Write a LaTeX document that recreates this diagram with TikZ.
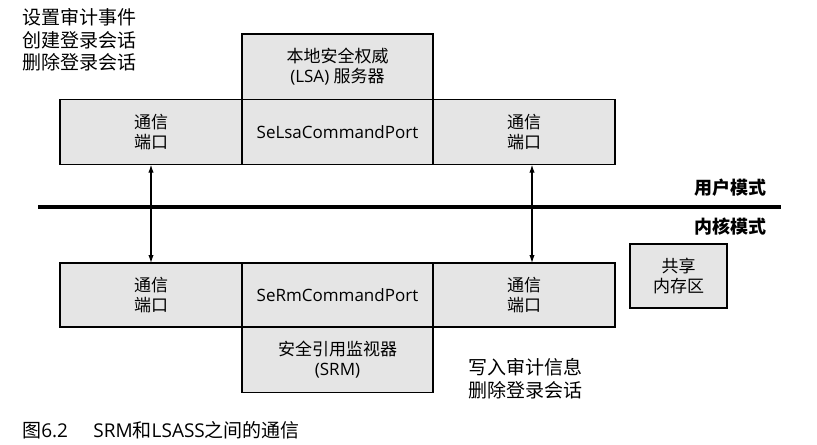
\documentclass[tikz,border=0pt]{standalone}
\usepackage{fontspec}
\setmainfont{Open Sans}
\newfontfamily\cjk{Noto Sans CJK SC}
\usepackage{tikz}
\usetikzlibrary{positioning, arrows.meta}
\definecolor{boxgray}{gray}{0.9}
\tikzstyle{port} = [rectangle, draw, line width=1.1pt, fill=boxgray, inner sep=0pt, outer sep=0pt, minimum width=143.25pt, minimum height=49pt, align=center, font=\fontsize{12.75}{15}\selectfont]
\tikzstyle{comm} = [port, minimum width=136.5pt, font=\fontsize{12.75}{15}\selectfont\cjk]
\tikzstyle{note} = [inner sep=0pt, align=left, font=\fontsize{14.25}{17}\selectfont\cjk]
\tikzstyle{mode} = [inner sep=0pt, anchor=east, font=\fontsize{13.5}{16}\selectfont\cjk\bfseries]
\tikzstyle{line} = [draw, line width=0.8pt, {Latex[length=6pt, width=4pt]}-{Latex[length=6pt, width=4pt]}]
\tikzstyle{border} = [draw, line width=3pt]

\begin{document}
\begin{tikzpicture}[x=0.75pt, y=-0.75pt]
        \useasboundingbox (0,0) rectangle (817,444);
        % Nodes
        \node (selsa) [port] at (337.5,132) {SeLsaCommandPort};
        \node (lsa) [port, above=0pt of selsa] {{\cjk 本地安全权威}\\(LSA) {\cjk 服务器}};
        \node (ucomL) [comm, left=0pt of selsa] {通信\\端口};
        \node (ucomR) [comm, right=0pt of selsa] {通信\\端口};
        \node (serm) [port, minimum height=48pt] at (337.5,295) {SeRmCommandPort};
        \node (srm) [port, below=0pt of serm] {{\cjk 安全引用监视器}\\(SRM)};
        \node (lcomL) [comm, minimum height=48pt, left=0pt of serm] {通信\\端口};
        \node (lcomR) [comm, minimum height=48pt, right=0pt of serm] {通信\\端口};
        \node (shm) [comm, minimum width=72.75pt, minimum height=48pt] at (678.5,276) {共享\\内存区};
        % mode boundary
        \coordinate (bl) at (38,207);
        \coordinate (br) at (781,207);
        \node (user) [mode] at (767,188) {用户模式};
        \node (kernel) [mode] at (767,227) {内核模式};
        % call lists
        \node (lsacalls) [note, anchor=west] at (22,40) {设置审计事件\\创建登录会话\\删除登录会话};
        \node (srmcalls) [note, anchor=west] at (468,379) {写入审计信息\\删除登录会话};
        \node (caption) [anchor=west, inner sep=0pt, font=\fontsize{14.25}{17}\selectfont] at (22,430) {{\cjk 图}6.2\hspace{19pt}SRM{\cjk 和}LSASS{\cjk 之间的通信}};
        % Edges
        \path [border] (bl) -- (br);
        \path [line] (ucomL.south) -- (lcomL.north);
        \path [line] ([xshift=6pt]ucomR.south) -- ([xshift=6pt]lcomR.north);
    \end{tikzpicture}
\end{document}
